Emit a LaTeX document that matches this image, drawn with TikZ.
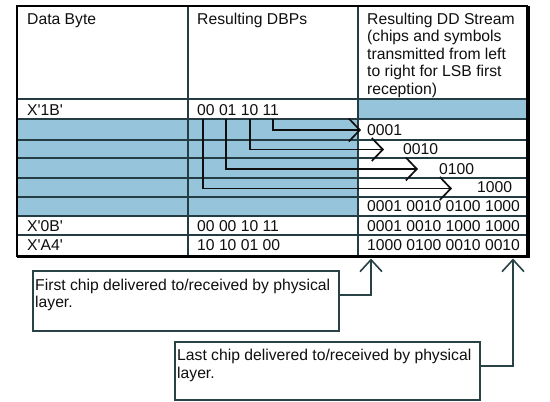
\documentclass[tikz,border=0pt]{standalone}
\usepackage{fontspec}
\setmainfont{Liberation Sans}
\usetikzlibrary{arrows.meta}
\definecolor{cellblue}{RGB}{150,196,219}
\definecolor{gridc}{RGB}{36,60,68}
\definecolor{boxc}{RGB}{40,66,70}
\definecolor{inkc}{RGB}{15,15,15}
\newcommand{\q}{\textquotesingle}
\begin{document}
\begin{tikzpicture}[x=1pt,y=-1pt,
  txt/.style={anchor=base west, inner sep=0pt, font=\fontsize{15.7}{17.5}\selectfont, text=inkc},
  gridline/.style={draw=gridc, line width=1.6pt},
  chev/.style={-{Straight Barb[length=11pt,width=23pt]}, line width=1.7pt, draw=inkc},
  upchev/.style={-{Straight Barb[length=12pt,width=22pt]}, line width=1.6pt, draw=boxc},
  callbox/.style={draw=boxc, line width=1.7pt, fill=white, anchor=north west, inner sep=0pt}
]
\useasboundingbox (0,0) rectangle (550,402);
\fill[white] (0,0) rectangle (550,402);

% blue cells
\fill[cellblue] (17,119) rectangle (358,216);
\fill[cellblue] (358,99) rectangle (527,119);

% grid
\foreach \yy in {119,140,158,178,197,216,235}
  \draw[gridline] (17,\yy) -- (527,\yy);
\draw[gridline, line width=2pt] (17,99) -- (527,99);
\draw[gridline] (188,6) -- (188,256);
\draw[gridline] (358,6) -- (358,256);

% outer border
\draw[black, line width=2.4pt] (17,6) rectangle (527,256);
\draw[black, line width=3.6pt] (528.5,6) -- (528.5,257.5);
\draw[black, line width=3.2pt] (17,256.5) -- (530,256.5);

% header
\node[txt] (hA) at (27,24) {Data Byte};
\node[txt] (hB) at (197,24) {Resulting DBPs};
\node[txt] (hC1) at (367,24) {Resulting DD Stream};
\node[txt] (hC2) at (367,41.5) {(chips and symbols};
\node[txt] (hC3) at (367,59) {transmitted from left};
\node[txt] (hC4) at (367,76.5) {to right for LSB first};
\node[txt] (hC5) at (367,94) {reception)};

% rows
\node[txt] (r1a) at (27,115.5) {X\q1B\q};
\node[txt] (r1b) at (197,115.5) {00 01 10 11};
\node[txt] (s1) at (367,135) {0001};
\node[txt] (s2) at (403,154.5) {0010};
\node[txt] (s3) at (439,174) {0100};
\node[txt] (s4) at (477,192.5) {1000};
\node[txt] (r1c) at (367,211.5) {0001 0010 0100 1000};
\node[txt] (r2a) at (27,231) {X\q0B\q};
\node[txt] (r2b) at (197,231) {00 00 10 11};
\node[txt] (r2c) at (367,231) {0001 0010 1000 1000};
\node[txt] (r3a) at (27,250.5) {X\q A4\q};
\node[txt] (r3b) at (197,250.5) {10 10 01 00};
\node[txt] (r3c) at (367,250.5) {1000 0100 0010 0010};

% bit-pair arrows
\coordinate (b1) at (202.7,119);
\coordinate (b2) at (225.7,119);
\coordinate (b3) at (250,119);
\coordinate (b4) at (273.3,119);
\coordinate (t1) at (361,130);
\coordinate (t2) at (384,149.5);
\coordinate (t3) at (418,169);
\coordinate (t4) at (452,188.5);
\draw[chev] (b4) |- (t1);
\draw[chev] (b3) |- (t2);
\draw[chev] (b2) |- (t3);
\draw[chev] (b1) |- (t4);

% callouts
\node[callbox, minimum width=306pt, minimum height=60pt] (c1) at (32,270) {};
\node[callbox, minimum width=305pt, minimum height=58pt] (c2) at (174,341) {};
\node[txt] (c1a) at (35,290) {First chip delivered to/received by physical};
\node[txt] (c1b) at (35,307.5) {layer.};
\node[txt] (c2a) at (177,360.5) {Last chip delivered to/received by physical};
\node[txt] (c2b) at (177,378.5) {layer.};

\coordinate (u1) at (371,258.5);
\coordinate (u2) at (513,258.5);
\draw[upchev] ([yshift=6pt]c1.east) -| (u1);
\draw[upchev] ([yshift=5pt]c2.east) -| (u2);
\end{tikzpicture}
\end{document}
